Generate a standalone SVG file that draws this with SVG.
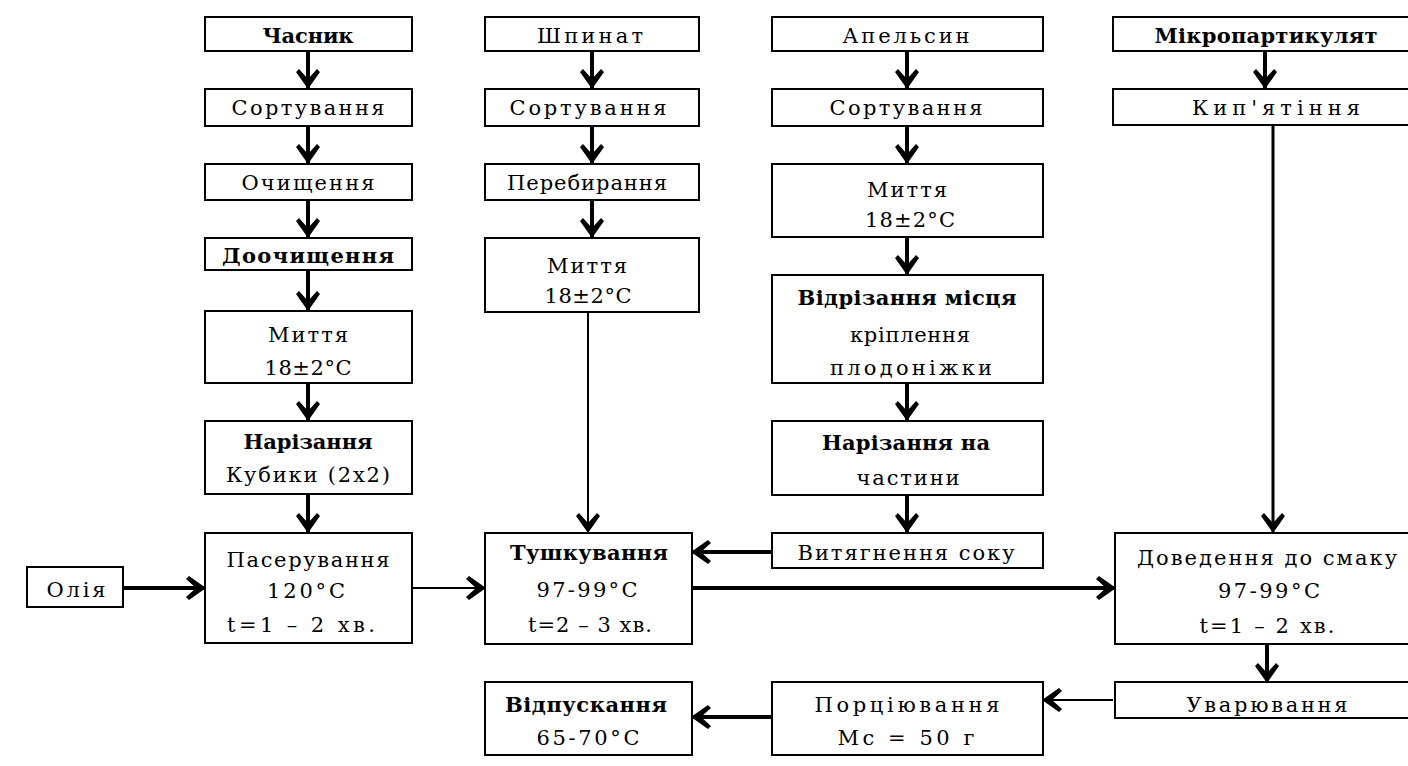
<svg xmlns="http://www.w3.org/2000/svg" width="1408" height="766" viewBox="0 0 1408 766">
  <style>
    .box { fill: #ffffff; stroke: #000000; stroke-width: 2; }
    .t { font-family: "DejaVu Serif", "Liberation Serif", serif; font-size: 21px; fill: #000000; text-anchor: middle; }
    .b { font-weight: bold; }
    .c { fill: none; stroke: #000000; }
    .w4 { stroke-width: 4; }
    .w3 { stroke-width: 3; }
    .w2 { stroke-width: 2; }
  </style>
  <defs>
    <marker id="head" viewBox="-20 -13 22 26" refX="0" refY="0" markerWidth="22" markerHeight="26" markerUnits="userSpaceOnUse" orient="auto">
      <path d="M1,0 L-16,-12 L-19,-9 L-9,0 L-19,9 L-16,12 Z" fill="#000000"/>
    </marker>
  </defs>
  <rect width="1408" height="766" fill="#ffffff"/>

  <!-- connectors -->
  <g id="connectors">
    <!-- garlic line -->
    <path class="c w4" d="M308,51 V88" marker-end="url(#head)"/>
    <path class="c w4" d="M308,126 V163" marker-end="url(#head)"/>
    <path class="c w4" d="M308,200 V237" marker-end="url(#head)"/>
    <path class="c w4" d="M308,270 V310" marker-end="url(#head)"/>
    <path class="c w4" d="M308,383 V420" marker-end="url(#head)"/>
    <path class="c w4" d="M308,494 V532" marker-end="url(#head)"/>
    <path class="c w4" d="M123,588 H205" marker-end="url(#head)"/>
    <path class="c w2" d="M412,588 H485" marker-end="url(#head)"/>
    <!-- spinach line -->
    <path class="c w4" d="M592,51 V88" marker-end="url(#head)"/>
    <path class="c w4" d="M592,126 V163" marker-end="url(#head)"/>
    <path class="c w4" d="M592,200 V237" marker-end="url(#head)"/>
    <path class="c w2" d="M588,312 V532" marker-end="url(#head)"/>
    <!-- orange line -->
    <path class="c w4" d="M907,51 V88" marker-end="url(#head)"/>
    <path class="c w4" d="M907,126 V163" marker-end="url(#head)"/>
    <path class="c w4" d="M907,237 V274" marker-end="url(#head)"/>
    <path class="c w4" d="M907,383 V420" marker-end="url(#head)"/>
    <path class="c w4" d="M907,495 V532" marker-end="url(#head)"/>
    <path class="c w4" d="M772,552 H692" marker-end="url(#head)"/>
    <!-- stewing to seasoning -->
    <path class="c w4" d="M692,588 H1115" marker-end="url(#head)"/>
    <!-- microparticulate line -->
    <path class="c w4" d="M1265,51 V88" marker-end="url(#head)"/>
    <path class="c w3" d="M1273,125 V532" marker-end="url(#head)"/>
    <path class="c w4" d="M1267,644 V682" marker-end="url(#head)"/>
    <!-- final steps -->
    <path class="c w2" d="M1113,700 H1043" marker-end="url(#head)"/>
    <path class="c w4" d="M772,717 H692" marker-end="url(#head)"/>
  </g>

  <!-- garlic column -->
  <g id="garlic">
    <rect class="box" x="205" y="17" width="207" height="34"/>
    <text class="t b" x="308" y="43" textLength="91">Часник</text>
  </g>
  <g id="garlic-sort">
    <rect class="box" x="205" y="89" width="207" height="37"/>
    <text class="t" x="308" y="115" textLength="153">Сортування</text>
  </g>
  <g id="garlic-peel">
    <rect class="box" x="205" y="164" width="207" height="36"/>
    <text class="t" x="308" y="190" textLength="133">Очищення</text>
  </g>
  <g id="garlic-repeel">
    <rect class="box" x="205" y="238" width="207" height="32"/>
    <text class="t b" x="308" y="263" textLength="172">Доочищення</text>
  </g>
  <g id="garlic-wash">
    <rect class="box" x="205" y="311" width="207" height="72"/>
    <text class="t" x="308" y="342" textLength="80">Миття</text>
    <text class="t" x="308" y="375" textLength="87">18±2°C</text>
  </g>
  <g id="garlic-cut">
    <rect class="box" x="205" y="421" width="207" height="73"/>
    <text class="t b" x="308" y="449" textLength="129">Нарізання</text>
    <text class="t" x="308" y="482" textLength="164">Кубики (2х2)</text>
  </g>
  <g id="saute">
    <rect class="box" x="205" y="533" width="207" height="110"/>
    <text class="t" x="308" y="567" textLength="163">Пасерування</text>
    <text class="t" x="306" y="598" textLength="78">120°C</text>
    <text class="t" x="301" y="632" textLength="148">t=1 – 2 хв.</text>
  </g>
  <g id="oil">
    <rect class="box" x="27" y="567" width="96" height="40"/>
    <text class="t" x="76" y="597" textLength="59">Олія</text>
  </g>

  <!-- spinach column -->
  <g id="spinach">
    <rect class="box" x="485" y="17" width="214" height="34"/>
    <text class="t" x="590" y="43" textLength="106">Шпинат</text>
  </g>
  <g id="spinach-sort">
    <rect class="box" x="485" y="89" width="214" height="37"/>
    <text class="t" x="588" y="115" textLength="157">Сортування</text>
  </g>
  <g id="spinach-pick">
    <rect class="box" x="485" y="164" width="214" height="36"/>
    <text class="t" x="587" y="190" textLength="160">Перебирання</text>
  </g>
  <g id="spinach-wash">
    <rect class="box" x="485" y="238" width="214" height="74"/>
    <text class="t" x="587" y="273" textLength="80">Миття</text>
    <text class="t" x="588" y="303" textLength="87">18±2°C</text>
  </g>
  <g id="stew">
    <rect class="box" x="485" y="533" width="207" height="111"/>
    <text class="t b" x="589" y="560" textLength="158">Тушкування</text>
    <text class="t" x="587" y="597" textLength="101">97-99°C</text>
    <text class="t" x="590" y="632" textLength="124">t=2 – 3 хв.</text>
  </g>
  <g id="serve">
    <rect class="box" x="485" y="682" width="207" height="73"/>
    <text class="t b" x="586" y="712" textLength="162">Відпускання</text>
    <text class="t" x="588" y="745" textLength="103">65-70°C</text>
  </g>

  <!-- orange column -->
  <g id="orange">
    <rect class="box" x="772" y="17" width="271" height="34"/>
    <text class="t" x="906" y="43" textLength="127">Апельсин</text>
  </g>
  <g id="orange-sort">
    <rect class="box" x="772" y="89" width="271" height="37"/>
    <text class="t" x="906" y="115" textLength="153">Сортування</text>
  </g>
  <g id="orange-wash">
    <rect class="box" x="772" y="164" width="271" height="73"/>
    <text class="t" x="907" y="197" textLength="80">Миття</text>
    <text class="t" x="910" y="227" textLength="90">18±2°C</text>
  </g>
  <g id="orange-stem">
    <rect class="box" x="772" y="275" width="271" height="108"/>
    <text class="t b" x="907" y="305" textLength="219">Відрізання місця</text>
    <text class="t" x="910" y="342" textLength="120">кріплення</text>
    <text class="t" x="911" y="375" textLength="162">плодоніжки</text>
  </g>
  <g id="orange-cut">
    <rect class="box" x="772" y="421" width="271" height="74"/>
    <text class="t b" x="906" y="450" textLength="168">Нарізання на</text>
    <text class="t" x="908" y="485" textLength="103">частини</text>
  </g>
  <g id="juice">
    <rect class="box" x="772" y="533" width="271" height="35"/>
    <text class="t" x="906" y="560" textLength="217">Витягнення соку</text>
  </g>
  <g id="portion">
    <rect class="box" x="772" y="682" width="271" height="73"/>
    <text class="t" x="907" y="712" textLength="185">Порціювання</text>
    <text class="t" x="906" y="745" textLength="137">Мс = 50 г</text>
  </g>

  <!-- microparticulate column -->
  <g id="micro">
    <rect class="box" x="1113" y="17" width="310" height="34"/>
    <text class="t b" x="1266" y="43" textLength="223">Мікропартикулят</text>
  </g>
  <g id="boil">
    <rect class="box" x="1113" y="89" width="310" height="36"/>
    <text class="t" x="1276" y="115" textLength="168">Кип'ятіння</text>
  </g>
  <g id="season">
    <rect class="box" x="1115" y="533" width="310" height="111"/>
    <text class="t" x="1267" y="565" textLength="260">Доведення до смаку</text>
    <text class="t" x="1269" y="598" textLength="102">97-99°C</text>
    <text class="t" x="1267" y="633" textLength="135">t=1 – 2 хв.</text>
  </g>
  <g id="reduce">
    <rect class="box" x="1115" y="682" width="310" height="36"/>
    <text class="t" x="1267" y="712" textLength="161">Уварювання</text>
  </g>
</svg>
